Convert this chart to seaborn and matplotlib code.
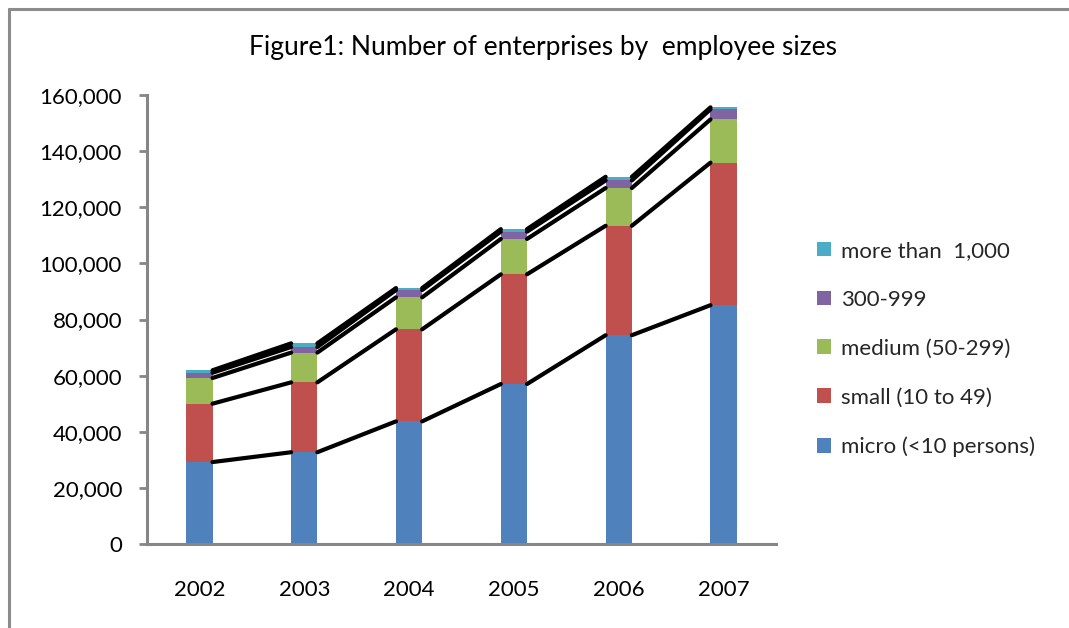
import matplotlib
matplotlib.use("Agg")
import matplotlib.pyplot as plt
import seaborn as sns
import pandas as pd
import numpy as np
from matplotlib.patches import Patch
from matplotlib.ticker import FuncFormatter
from matplotlib.lines import Line2D

years = ["2002", "2003", "2004", "2005", "2006", "2007"]
series_names = ["micro (<10 persons)", "small (10 to 49)", "medium (50-299)", "300-999", "more than  1,000"]
micro = [29200, 32700, 43700, 57000, 74400, 85100]
small = [20800, 24900, 32800, 39100, 39000, 50800]
medium = [9150, 10600, 11400, 12600, 13450, 15400]
s300_999 = [1880, 2000, 2600, 2600, 2700, 3600]
over_1000 = [870, 1300, 700, 900, 1300, 700]
colors = ["#4F81BD", "#C0504D", "#9BBB59", "#8064A2", "#4BACC6"]
yticks = [0, 20000, 40000, 60000, 80000, 100000, 120000, 140000, 160000]

sns.set_theme(style="white")
plt.rcParams["font.family"] = ["Lato", "DejaVu Sans"]

fig = plt.figure(figsize=(10.69, 6.28), dpi=100)
ax = fig.add_axes([147 / 1069, 84 / 628, 629 / 1069, 449 / 628])

values = [micro, small, medium, s300_999, over_1000]
bottom = np.zeros(len(years))
bar_w = 0.25
tops = []
for name, vals, col in zip(series_names, values, colors):
    df = pd.DataFrame({"year": years, "value": vals})
    sns.barplot(data=df, x="year", y="value", color=col, width=bar_w,
                bottom=bottom, ax=ax, saturation=1, linewidth=0, errorbar=None)
    bottom = bottom + np.array(vals)
    tops.append(bottom.copy())

# Series lines connecting segment tops
for lvl in tops:
    for i in range(len(years) - 1):
        ax.add_line(Line2D([i + bar_w / 2, i + 1 - bar_w / 2], [lvl[i], lvl[i + 1]],
                           color="black", lw=3.0, solid_capstyle="round", zorder=5))

ax.set_xlim(-0.5, 5.5)
ax.set_ylim(0, 160000)
ax.set_yticks(yticks)
ax.yaxis.set_major_formatter(FuncFormatter(lambda v, p: f"{int(v):,}"))
ax.set_xlabel("")
ax.set_ylabel("")
for s in ["top", "right"]:
    ax.spines[s].set_visible(False)
for s in ["left", "bottom"]:
    ax.spines[s].set_color("#868686")
    ax.spines[s].set_linewidth(2.2)
ax.tick_params(axis="y", which="major", left=True, length=6, width=2, color="#868686",
               pad=12, labelsize=16, labelcolor="black")
ax.tick_params(axis="x", bottom=False, pad=20, labelsize=16, labelcolor="black")

fig.text(543 / 1069, 1 - 47 / 628, "Figure1: Number of enterprises by  employee sizes",
         ha="center", va="center", fontsize=19, color="black")

handles = [Patch(facecolor=c, edgecolor="none") for c in colors]
leg = fig.legend(handles[::-1], series_names[::-1], loc="upper left",
                 bbox_to_anchor=(808 / 1069, 1 - 232 / 628), frameon=False,
                 fontsize=16, handlelength=0.65, handleheight=0.65, handletextpad=0.45,
                 labelspacing=1.3, borderaxespad=0)

# chart border (left and top)
fig.add_artist(Line2D([8.5 / 1069, 8.5 / 1069], [0, 1 - 8.5 / 628], color="#8c8c8c", lw=2.2))
fig.add_artist(Line2D([8.5 / 1069, 1], [1 - 8.5 / 628, 1 - 8.5 / 628], color="#8c8c8c", lw=2.2))

fig.savefig("out.png", dpi=100, facecolor="white")
